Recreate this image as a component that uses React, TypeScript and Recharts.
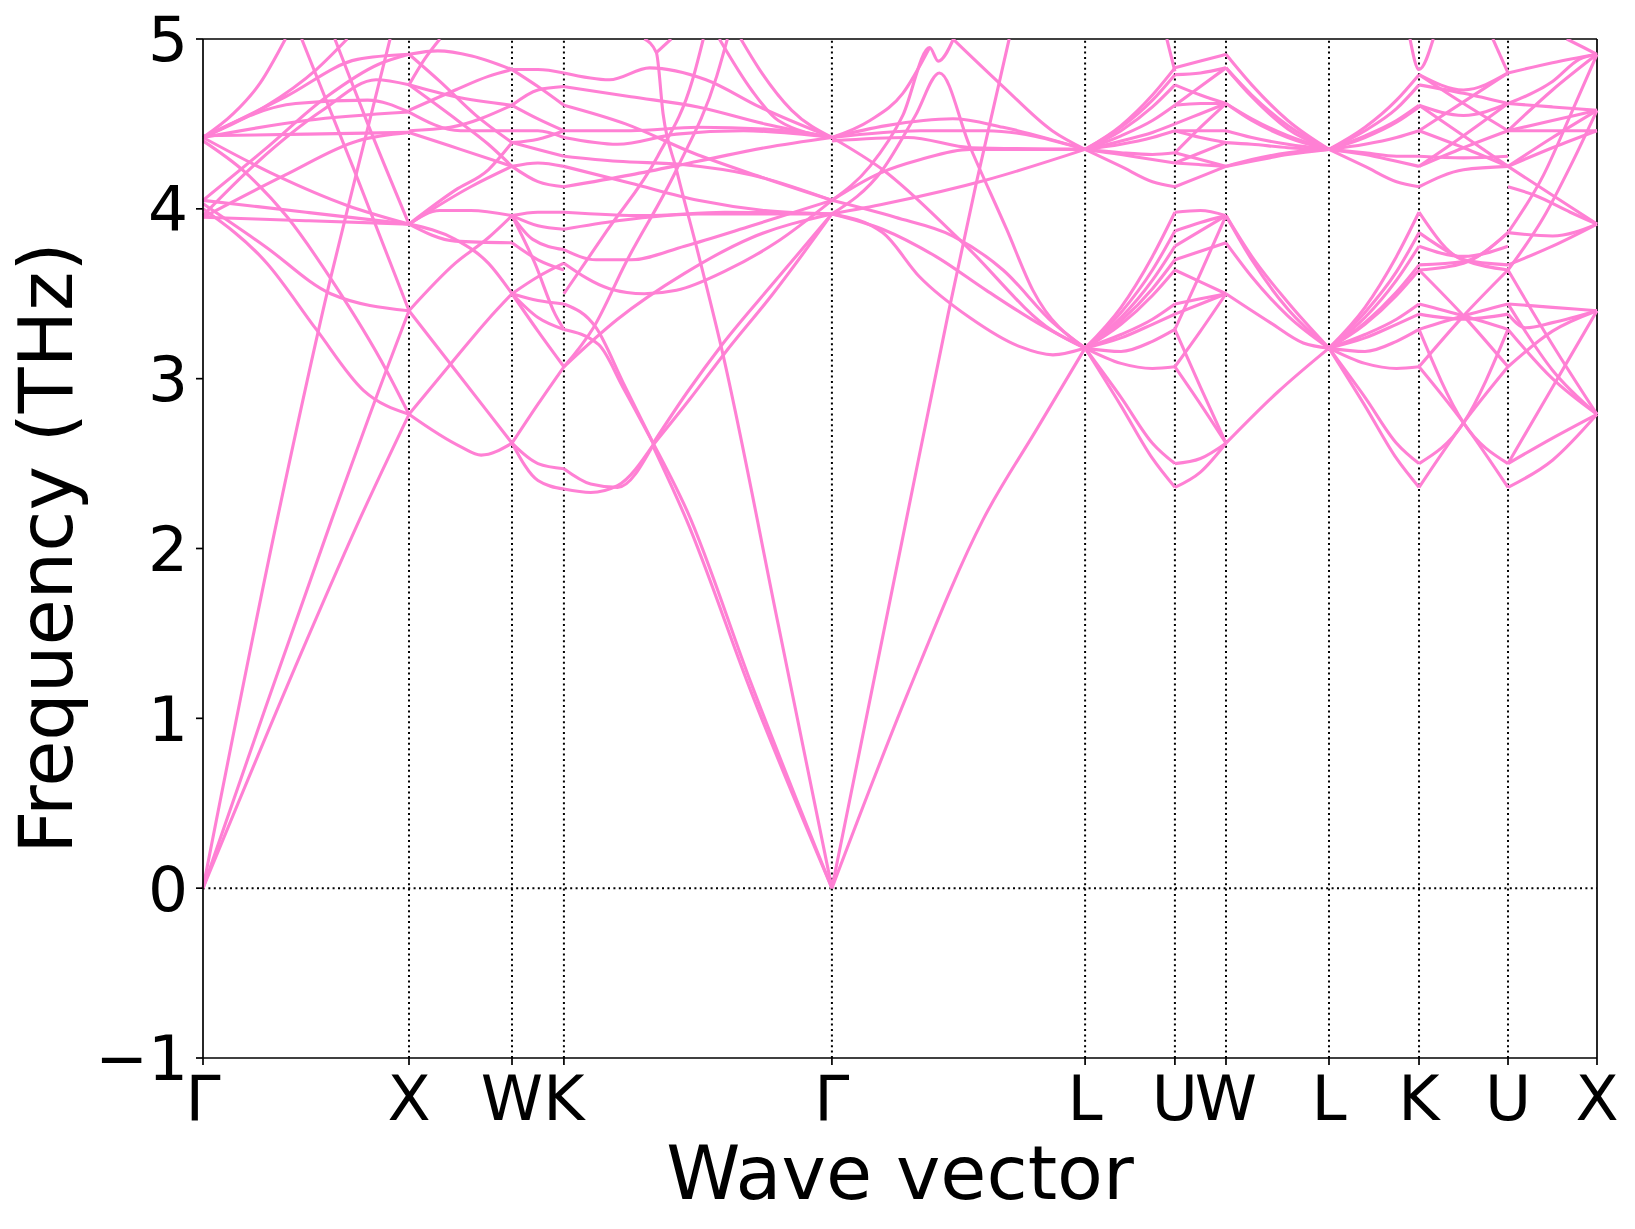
import { LineChart, Line, XAxis, YAxis, ReferenceLine } from "recharts";

const kLabels = ["Γ", "X", "W", "K", "Γ", "L", "U", "W", "L", "K", "U", "X"];
const kDist = [0, 1.0, 1.5, 1.752, 3.053, 4.282, 4.718, 4.966, 5.466, 5.903, 6.335, 6.767];
const freqTicks = [-1, 0, 1, 2, 3, 4, 5];

// band pieces: [segment index + fraction along segment, frequency in THz]
const bandsGX = [
  [[0, 0], [0.36, 2.17], [0.617, 3.58], [0.743, 4.2], [0.908, 5.0]],
  [[0, 0], [0.3, 1.05], [0.625, 2.17], [0.89, 3.05], [1, 3.4]],
  [[0, 0], [0.5, 1.45], [0.76, 2.17], [1, 2.79]],
  [[0, 4.4], [0.2, 4.22], [0.41, 3.95], [0.625, 3.58], [0.89, 3.05], [1, 2.79]],
  [[0.479, 5.0], [0.743, 4.2], [1, 3.4]],
  [[0, 4.03], [0.3, 3.78], [0.62, 3.5], [1, 3.4]],
  [[0, 4.0], [0.31, 3.68], [0.55, 3.29], [0.78, 2.93], [1, 2.79]],
  [[0, 3.95], [0.5, 3.93], [1, 3.91]],
  [[0, 4.05], [0.5, 3.98], [1, 3.91]],
  [[0, 4.42], [0.35, 4.2], [0.7, 4.02], [1, 3.91]],
  [[0, 4.43], [0.5, 4.44], [1, 4.45]],
  [[0, 4.42], [0.5, 4.52], [1, 4.57]],
  [[0, 4.42], [0.147, 4.56], [0.277, 4.74], [0.4, 5.0]],
  [[0, 4.42], [0.3, 4.6], [0.55, 4.82], [0.7, 5.0]],
  [[0, 3.96], [0.26, 4.27], [0.58, 4.58], [0.84, 4.76], [1, 4.73]],
  [[0, 4.05], [0.3, 4.35], [0.6, 4.66], [0.85, 4.85], [1, 4.91]],
  [[0, 4.42], [0.4, 4.66], [0.75, 4.88], [1, 4.91]],
  [[0, 4.42], [0.45, 4.62], [0.8, 4.64], [1, 4.57]],
  [[0.64, 5.0], [0.8, 4.5], [1, 3.91]],
  [[0, 3.95], [0.4, 4.2], [0.75, 4.4], [1, 4.45]],
];

const bandsXW = [
  [[1, 4.91], [1.28, 4.93], [1.61, 4.9], [2, 4.82]],
  [[1, 4.91], [1.3, 4.75], [1.65, 4.55], [2, 4.39]],
  [[1, 4.73], [1.15, 4.88], [1.3, 5.0]],
  [[1, 4.73], [1.45, 4.66], [2, 4.61]],
  [[1, 4.73], [1.45, 4.53], [1.77, 4.38], [2, 4.25]],
  [[1, 4.58], [1.45, 4.7], [1.77, 4.78], [2, 4.82]],
  [[1, 4.46], [1.4, 4.48], [2, 4.61]],
  [[1, 4.45], [1.5, 4.35], [2, 4.25]],
  [[1, 4.57], [1.5, 4.46], [2, 4.46]],
  [[1, 3.91], [1.45, 4.11], [1.77, 4.23], [2, 4.39]],
  [[1, 3.91], [1.6, 4.13], [2, 4.25]],
  [[1, 3.91], [1.3, 3.99], [1.6, 3.99], [2, 3.96]],
  [[1, 3.91], [1.45, 3.82], [1.77, 3.68], [2, 3.5]],
  [[1, 3.91], [1.45, 3.81], [2, 3.8]],
  [[1, 3.4], [1.45, 3.68], [1.77, 3.83], [2, 3.96]],
  [[1, 3.4], [1.45, 3.05], [1.77, 2.8], [2, 2.62]],
  [[1, 2.79], [1.45, 3.12], [1.77, 3.35], [2, 3.5]],
  [[1, 2.79], [1.5, 2.6], [1.7, 2.55], [2, 2.62]],
];

const bandsWK = [
  [[2, 4.82], [2.5, 4.82], [3, 4.8]],
  [[2, 4.82], [2.5, 4.72], [3, 4.61]],
  [[2, 4.61], [2.5, 4.7], [3, 4.72]],
  [[2, 4.61], [2.5, 4.53], [3, 4.46]],
  [[2, 4.46], [2.5, 4.46], [3, 4.42]],
  [[2, 4.39], [2.5, 4.41], [3, 4.46]],
  [[2, 4.39], [2.5, 4.35], [3, 4.31]],
  [[2, 4.25], [2.5, 4.27], [3, 4.25]],
  [[2, 4.25], [2.5, 4.16], [3, 4.13]],
  [[2, 3.96], [2.5, 3.98], [3, 3.98]],
  [[2, 3.96], [2.5, 3.9], [3, 3.88]],
  [[2, 3.96], [2.4, 3.82], [3, 3.76]],
  [[2, 3.8], [2.5, 3.7], [3, 3.64]],
  [[2, 3.96], [2.44, 3.68], [2.83, 3.38], [3, 3.29]],
  [[2, 3.5], [2.5, 3.46], [3, 3.44]],
  [[2, 3.5], [2.5, 3.36], [3, 3.29]],
  [[2, 3.5], [2.5, 3.6], [3, 3.68]],
  [[2, 3.5], [2.5, 3.28], [3, 3.07]],
  [[2, 2.62], [2.5, 2.85], [3, 3.07]],
  [[2, 2.62], [2.5, 2.5], [3, 2.47]],
  [[2, 2.62], [2.5, 2.4], [3, 2.35]],
];

const bandsKG = [
  [[3, 4.8], [3.17, 4.76], [3.32, 4.83], [3.53, 4.76], [3.73, 4.6], [4, 4.42]],
  [[3, 4.72], [3.25, 4.66], [3.5, 4.6], [3.75, 4.5], [4, 4.42]],
  [[3, 4.46], [3.25, 4.46], [3.5, 4.48], [3.75, 4.47], [4, 4.42]],
  [[3, 4.42], [3.2, 4.38], [3.42, 4.44], [3.67, 4.46], [4, 4.42]],
  [[3.3, 5.0], [3.345, 4.92], [3.37, 4.56], [3.42, 4.23], [3.507, 3.7], [3.585, 3.2], [3.8, 1.55], [4, 0]],
  [[3.345, 4.92], [3.4, 5.0]],
  [[3.66, 5.0], [3.73, 4.82], [3.85, 4.58], [4, 4.42]],
  [[3.58, 5.0], [3.7, 4.7], [3.8, 4.52], [4, 4.42]],
  [[3, 4.61], [3.23, 4.5], [3.48, 4.33], [3.73, 4.19], [4, 4.05]],
  [[3, 4.31], [3.2, 4.28], [3.45, 4.26], [3.7, 4.2], [4, 4.05]],
  [[3, 4.25], [3.25, 4.15], [3.5, 4.05], [3.75, 3.99], [4, 3.97]],
  [[3, 4.13], [3.25, 4.2], [3.5, 4.28], [3.75, 4.36], [4, 4.42]],
  [[3, 3.07], [3.11, 3.3], [3.23, 3.68], [3.42, 4.23], [3.57, 4.78], [3.61, 5.0]],
  [[3, 3.5], [3.16, 3.87], [3.35, 4.31], [3.48, 4.76], [3.52, 5.0]],
  [[3.333, 2.6], [3.457, 2.17], [3.7, 1.15], [4, 0]],
  [[3.333, 2.62], [3.46, 2.22], [3.7, 1.2], [4, 0]],
  [[3, 2.47], [3.1, 2.38], [3.2, 2.36], [3.333, 2.61]],
  [[3, 2.35], [3.1, 2.33], [3.2, 2.37], [3.333, 2.61]],
  [[3.333, 2.62], [3.46, 2.92], [3.59, 3.2], [3.78, 3.56], [4, 3.97]],
  [[3.333, 2.61], [3.47, 2.88], [3.6, 3.15], [3.78, 3.5], [4, 3.97]],
  [[3, 3.44], [3.12, 3.3], [3.22, 2.98], [3.333, 2.62]],
  [[3, 3.29], [3.13, 3.2], [3.22, 2.95], [3.333, 2.62]],
  [[3, 3.07], [3.2, 3.35], [3.45, 3.62], [3.7, 3.83], [4, 3.97]],
  [[3, 3.68], [3.17, 3.53], [3.3, 3.5], [3.42, 3.52], [3.61, 3.64], [3.79, 3.8], [4, 4.05]],
  [[3, 3.76], [3.12, 3.7], [3.25, 3.7], [3.45, 3.78], [3.7, 3.9], [4, 4.05]],
  [[3, 3.98], [3.3, 3.96], [3.6, 3.98], [4, 3.97]],
  [[3, 3.88], [3.2, 3.93], [3.5, 3.97], [4, 3.97]],
];

const bandsGL = [
  [[4, 0], [4.294, 2.17], [4.459, 3.38], [4.57, 4.15], [4.7, 5.0]],
  [[4, 0], [4.3, 1.15], [4.597, 2.17], [4.808, 2.7], [5, 3.18]],
  [[4, 3.97], [4.2, 3.86], [4.346, 3.6], [4.544, 3.36], [4.74, 3.19], [4.873, 3.14], [5, 3.18]],
  [[4, 3.97], [4.2, 3.88], [4.41, 3.72], [4.61, 3.52], [4.81, 3.33], [5, 3.18]],
  [[4, 4.05], [4.25, 3.95], [4.478, 3.84], [4.676, 3.64], [4.873, 3.33], [5, 3.18]],
  [[4, 4.42], [4.201, 4.23], [4.517, 3.8], [4.873, 3.28], [5, 3.18]],
  [[4, 4.05], [4.15, 4.25], [4.28, 4.55], [4.386, 4.95], [4.42, 4.87], [4.48, 5.0]],
  [[4, 3.97], [4.2, 4.23], [4.33, 4.55], [4.425, 4.8], [4.544, 4.37], [4.69, 3.88], [4.794, 3.52], [5, 3.18]],
  [[4, 4.42], [4.215, 4.49], [4.478, 4.53], [4.676, 4.48], [5, 4.35]],
  [[4, 4.42], [4.35, 4.46], [4.61, 4.46], [5, 4.35]],
  [[4, 4.4], [4.3, 4.42], [4.55, 4.36], [5, 4.35]],
  [[4, 4.05], [4.19, 4.21], [4.35, 4.29], [4.545, 4.35], [5, 4.35]],
  [[4, 3.97], [4.21, 4.03], [4.61, 4.17], [5, 4.35]],
  [[4.478, 5.0], [4.676, 4.72], [4.87, 4.46], [5, 4.35]],
  [[4, 4.42], [4.15, 4.52], [4.28, 4.68], [4.386, 4.95]],
];

const bandsLU = [
  [[5, 4.35], [5.4, 4.49], [5.75, 4.67], [6, 4.83]],
  [[5, 4.35], [5.4, 4.48], [5.75, 4.64], [6, 4.79]],
  [[5, 4.35], [5.4, 4.46], [5.75, 4.6], [6, 4.73]],
  [[5, 4.35], [5.4, 4.43], [5.75, 4.52], [6, 4.61]],
  [[5, 4.35], [5.4, 4.4], [5.75, 4.45], [6, 4.5]],
  [[5, 4.35], [5.4, 4.38], [5.75, 4.42], [6, 4.46]],
  [[5, 4.35], [5.4, 4.33], [5.75, 4.32], [6, 4.33]],
  [[5, 4.35], [5.4, 4.32], [5.75, 4.29], [6, 4.27]],
  [[5, 4.35], [5.4, 4.25], [5.75, 4.16], [6, 4.13]],
  [[5, 3.18], [5.4, 3.42], [5.75, 3.72], [6, 3.98]],
  [[5, 3.18], [5.4, 3.39], [5.75, 3.64], [6, 3.87]],
  [[5, 3.18], [5.4, 3.36], [5.75, 3.58], [6, 3.78]],
  [[5, 3.18], [5.4, 3.34], [5.75, 3.53], [6, 3.7]],
  [[5, 3.18], [5.4, 3.32], [5.75, 3.49], [6, 3.64]],
  [[5, 3.18], [5.4, 3.26], [5.75, 3.35], [6, 3.44]],
  [[5, 3.18], [5.4, 3.24], [5.75, 3.32], [6, 3.38]],
  [[5, 3.18], [5.4, 3.16], [5.75, 3.22], [6, 3.29]],
  [[5, 3.18], [5.4, 3.09], [5.75, 3.06], [6, 3.07]],
  [[5, 3.18], [5.4, 2.89], [5.75, 2.62], [6, 2.5]],
  [[5, 3.18], [5.4, 2.84], [5.75, 2.53], [6, 2.36]],
  [[5.91, 5.0], [6, 4.81]],
];

const bandsUW = [
  [[6, 4.83], [6.5, 4.87], [7, 4.91]],
  [[6, 4.79], [6.5, 4.8], [7, 4.83]],
  [[6, 4.73], [6.5, 4.67], [7, 4.62]],
  [[6, 4.61], [6.5, 4.72], [7, 4.83]],
  [[6, 4.61], [6.5, 4.62], [7, 4.62]],
  [[6, 4.5], [6.5, 4.56], [7, 4.62]],
  [[6, 4.46], [6.5, 4.46], [7, 4.46]],
  [[6, 4.46], [6.5, 4.42], [7, 4.39]],
  [[6, 4.33], [6.5, 4.48], [7, 4.62]],
  [[6, 4.27], [6.5, 4.26], [7, 4.25]],
  [[6, 4.13], [6.5, 4.19], [7, 4.25]],
  [[6, 4.33], [6.5, 4.29], [7, 4.25]],
  [[6, 4.27], [6.5, 4.33], [7, 4.39]],
  [[6, 3.98], [6.5, 3.99], [7, 3.96]],
  [[6, 3.87], [6.5, 3.92], [7, 3.96]],
  [[6, 3.78], [6.5, 3.87], [7, 3.96]],
  [[6, 3.7], [6.5, 3.75], [7, 3.8]],
  [[6, 3.64], [6.5, 3.57], [7, 3.5]],
  [[6, 3.44], [6.5, 3.47], [7, 3.5]],
  [[6, 3.38], [6.5, 3.44], [7, 3.5]],
  [[6, 3.29], [6.5, 2.95], [7, 2.62]],
  [[6, 3.07], [6.5, 2.85], [7, 2.62]],
  [[6, 3.07], [6.5, 3.28], [7, 3.5]],
  [[6, 3.29], [6.5, 3.62], [7, 3.96]],
  [[6, 2.5], [6.5, 2.53], [7, 2.62]],
  [[6, 2.36], [6.5, 2.45], [7, 2.62]],
];

const bandsWL = [
  [[7, 4.91], [7.25, 4.73], [7.6, 4.52], [8, 4.35]],
  [[7, 4.83], [7.25, 4.67], [7.6, 4.49], [8, 4.35]],
  [[7, 4.83], [7.25, 4.66], [7.6, 4.47], [8, 4.35]],
  [[7, 4.62], [7.25, 4.53], [7.6, 4.43], [8, 4.35]],
  [[7, 4.62], [7.25, 4.52], [7.6, 4.42], [8, 4.35]],
  [[7, 4.46], [7.25, 4.42], [7.6, 4.38], [8, 4.35]],
  [[7, 4.39], [7.25, 4.38], [7.6, 4.36], [8, 4.35]],
  [[7, 4.25], [7.25, 4.28], [7.6, 4.32], [8, 4.35]],
  [[7, 4.25], [7.25, 4.29], [7.6, 4.33], [8, 4.35]],
  [[7, 3.96], [7.25, 3.7], [7.6, 3.41], [8, 3.18]],
  [[7, 3.96], [7.25, 3.72], [7.6, 3.45], [8, 3.18]],
  [[7, 3.8], [7.25, 3.6], [7.6, 3.37], [8, 3.18]],
  [[7, 3.5], [7.43, 3.33], [7.75, 3.21], [8, 3.18]],
  [[7, 2.62], [7.5, 2.92], [8, 3.18]],
];

const bandsLK = [
  [[8, 4.35], [8.4, 4.48], [8.75, 4.64], [9, 4.79]],
  [[8, 4.35], [8.4, 4.46], [8.75, 4.59], [9, 4.73]],
  [[8, 4.35], [8.4, 4.43], [8.75, 4.52], [9, 4.61]],
  [[8, 4.35], [8.4, 4.42], [8.75, 4.51], [9, 4.6]],
  [[8, 4.35], [8.4, 4.38], [8.75, 4.42], [9, 4.46]],
  [[8, 4.35], [8.4, 4.33], [8.75, 4.31], [9, 4.31]],
  [[8, 4.35], [8.4, 4.32], [8.75, 4.28], [9, 4.25]],
  [[8, 4.35], [8.4, 4.25], [8.75, 4.16], [9, 4.13]],
  [[8, 3.18], [8.4, 3.42], [8.75, 3.72], [9, 3.98]],
  [[8, 3.18], [8.4, 3.39], [8.75, 3.63], [9, 3.86]],
  [[8, 3.18], [8.4, 3.36], [8.75, 3.58], [9, 3.78]],
  [[8, 3.18], [8.4, 3.33], [8.75, 3.51], [9, 3.67]],
  [[8, 3.18], [8.4, 3.32], [8.75, 3.49], [9, 3.64]],
  [[8, 3.18], [8.4, 3.26], [8.75, 3.35], [9, 3.44]],
  [[8, 3.18], [8.4, 3.24], [8.75, 3.32], [9, 3.38]],
  [[8, 3.18], [8.4, 3.16], [8.75, 3.22], [9, 3.29]],
  [[8, 3.18], [8.4, 3.09], [8.75, 3.06], [9, 3.07]],
  [[8, 3.18], [8.4, 2.89], [8.75, 2.62], [9, 2.5]],
  [[8, 3.18], [8.4, 2.84], [8.75, 2.53], [9, 2.36]],
  [[8.9, 5.0], [9, 4.82], [9.16, 5.0]],
];

const bandsKU = [
  [[9, 4.79], [9.5, 4.7], [10, 4.8]],
  [[9, 4.79], [9.5, 4.62], [10, 4.46]],
  [[9, 4.46], [9.5, 4.63], [10, 4.8]],
  [[9, 4.61], [9.5, 4.55], [10, 4.62]],
  [[9, 4.61], [9.5, 4.43], [10, 4.25]],
  [[9, 4.25], [9.5, 4.43], [10, 4.62]],
  [[9, 4.46], [9.5, 4.36], [10, 4.25]],
  [[9, 4.25], [9.5, 4.36], [10, 4.46]],
  [[9, 4.13], [9.5, 4.23], [10, 4.25]],
  [[9, 4.31], [9.5, 4.3], [10, 4.31]],
  [[9, 4.73], [9.5, 4.68], [10, 4.62]],
  [[9, 3.98], [9.5, 3.7], [10, 3.67]],
  [[9, 3.86], [9.5, 3.7], [10, 3.64]],
  [[9, 3.67], [9.5, 3.69], [10, 3.86]],
  [[9, 3.64], [9.5, 3.68], [10, 3.86]],
  [[9, 3.78], [9.5, 3.72], [10, 3.78]],
  [[9, 3.64], [9.5, 3.37], [10, 3.07]],
  [[9, 3.07], [9.5, 3.37], [10, 3.64]],
  [[9, 3.44], [9.5, 3.37], [10, 3.29]],
  [[9, 3.29], [9.5, 3.37], [10, 3.44]],
  [[9, 3.38], [9.5, 3.35], [10, 3.38]],
  [[9, 3.29], [9.5, 2.74], [10, 2.5]],
  [[9, 2.5], [9.5, 2.74], [10, 3.29]],
  [[9, 3.07], [9.5, 2.74], [10, 2.36]],
  [[9, 2.36], [9.5, 2.74], [10, 3.07]],
  [[9.83, 5.0], [10, 4.8]],
];

const bandsUX = [
  [[10, 4.8], [10.5, 4.86], [11, 4.91]],
  [[10, 4.62], [10.5, 4.75], [10.8, 4.88], [11, 4.91]],
  [[10, 4.46], [10.5, 4.7], [11, 4.91]],
  [[10, 4.62], [10.5, 4.6], [11, 4.58]],
  [[10, 4.46], [10.5, 4.52], [11, 4.58]],
  [[10, 4.46], [10.5, 4.46], [11, 4.46]],
  [[10, 4.25], [10.5, 4.36], [11, 4.46]],
  [[10, 4.25], [10.5, 4.42], [11, 4.58]],
  [[10, 4.25], [10.5, 4.08], [11, 3.91]],
  [[10, 4.13], [10.3, 4.08], [10.7, 3.98], [11, 3.91]],
  [[10, 3.86], [10.4, 4.2], [10.7, 4.55], [11, 4.91]],
  [[10, 3.64], [10.4, 3.95], [10.7, 4.25], [11, 4.58]],
  [[10, 3.86], [10.5, 3.84], [11, 3.91]],
  [[10, 3.67], [10.5, 3.78], [11, 3.91]],
  [[10, 3.44], [10.5, 3.42], [11, 3.4]],
  [[10, 3.38], [10.2, 3.3], [10.5, 3.33], [11, 3.4]],
  [[10, 3.07], [10.5, 3.28], [11, 3.4]],
  [[10, 3.64], [10.5, 3.2], [11, 2.79]],
  [[10, 3.44], [10.5, 3.05], [11, 2.79]],
  [[10, 3.29], [10.5, 3.0], [11, 2.79]],
  [[10, 2.5], [10.5, 2.65], [11, 2.79]],
  [[10, 2.36], [10.5, 2.52], [11, 2.79]],
  [[10, 2.5], [10.5, 2.95], [11, 3.4]],
  [[10.66, 5.0], [10.85, 4.95], [11, 4.91]],
];

const BAND_COLOR = "#ff80d4";
const FONT = "'DejaVu Sans', sans-serif";

function toDist(s: number) {
  const i = Math.min(Math.floor(s), kDist.length - 2);
  return kDist[i] + (s - i) * (kDist[i + 1] - kDist[i]);
}

const pieces = [
  ...bandsGX, ...bandsXW, ...bandsWK, ...bandsKG, ...bandsGL, ...bandsLU,
  ...bandsUW, ...bandsWL, ...bandsLK, ...bandsKU, ...bandsUX,
].map((pts) => pts.map(([s, f]) => ({ x: toDist(s), y: f })));

const fmtFreq = (v: number) => (v < 0 ? "\u2212" + Math.abs(v) : String(v));

export default function App() {
  const xMax = kDist[kDist.length - 1];
  return (
    <div style={{ position: "absolute", left: 0, top: 0, width: 1635, height: 1229, background: "#fff" }}>
      <LineChart width={1635} height={1229} margin={{ top: 39, right: 38, bottom: 0, left: 0 }}>
        <XAxis
          type="number"
          dataKey="x"
          domain={[0, xMax]}
          ticks={kDist}
          interval={0}
          tickFormatter={(_v: number, i: number) => kLabels[i]}
          height={171}
          tickSize={7}
          tickMargin={10}
          tick={{ fontSize: 63, fill: "#000", fontFamily: FONT }}
          axisLine={{ stroke: "#000", strokeWidth: 1.7 }}
          tickLine={{ stroke: "#000", strokeWidth: 1.7 }}
          label={{
            content: () => (
              <text x={900} y={1199} textAnchor="middle" fontSize={75} fontFamily={FONT} fill="#000">
                Wave vector
              </text>
            ),
          }}
        />
        <YAxis
          type="number"
          domain={[-1, 5]}
          ticks={freqTicks}
          allowDataOverflow
          width={203}
          tickSize={7}
          tickMargin={8}
          tickFormatter={fmtFreq}
          tick={{ fontSize: 63, fill: "#000", fontFamily: FONT }}
          axisLine={{ stroke: "#000", strokeWidth: 1.7 }}
          tickLine={{ stroke: "#000", strokeWidth: 1.7 }}
          label={{
            content: () => (
              <text
                x={72}
                y={548}
                transform="rotate(-90, 72, 548)"
                textAnchor="middle"
                fontSize={75}
                fontFamily={FONT}
                fill="#000"
              >
                Frequency (THz)
              </text>
            ),
          }}
        />
        {kDist.slice(1, -1).map((d, i) => (
          <ReferenceLine key={"v" + i} x={d} stroke="#000" strokeWidth={2} strokeDasharray="2 3.4" />
        ))}
        <ReferenceLine y={0} stroke="#000" strokeWidth={2} strokeDasharray="2 3.4" />
        <ReferenceLine y={5} stroke="#000" strokeWidth={1.7} />
        <ReferenceLine x={xMax} stroke="#000" strokeWidth={1.7} />
        {pieces.map((data, i) => (
          <Line
            key={i}
            data={data}
            dataKey="y"
            type="monotone"
            stroke={BAND_COLOR}
            strokeWidth={3.1}
            dot={false}
            activeDot={false}
            isAnimationActive={false}
          />
        ))}
      </LineChart>
    </div>
  );
}
